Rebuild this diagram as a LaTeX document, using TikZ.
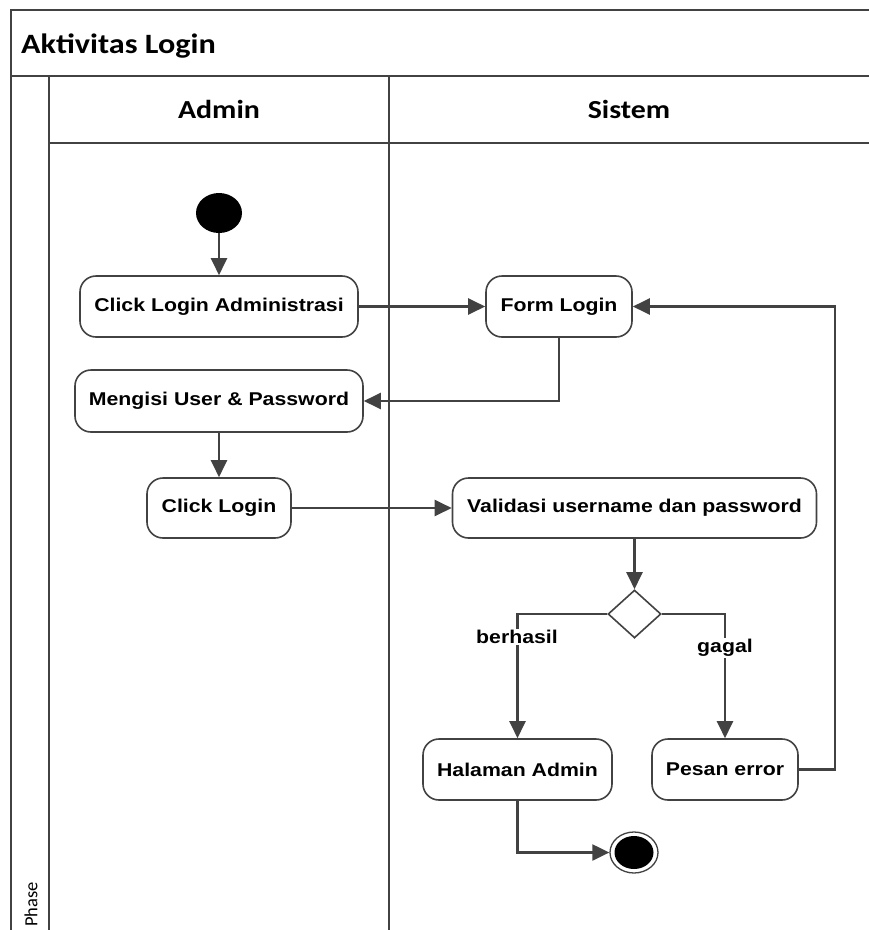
\documentclass[tikz,border=0pt]{standalone}
\usepackage{fontspec}
\usetikzlibrary{shapes.geometric,arrows.meta}
\newfontfamily\actfont[FakeStretch=1.15]{Liberation Sans}
\newfontfamily\headfont[FakeStretch=1.15]{Carlito}
\newfontfamily\phasefont{Carlito}
\definecolor{lc}{HTML}{424242}
\tikzset{
  frame/.style={draw=lc, line width=2.1pt},
  act/.style={draw=lc, line width=1.6pt, rounded corners=16pt, fill=white,
    font=\actfont\bfseries\fontsize{18.5}{22}\selectfont, inner sep=0pt},
  arr/.style={draw=lc, line width=2.2pt, -{Triangle[length=17pt,width=16pt]}},
  lbl/.style={fill=white, inner sep=1pt, font=\actfont\bfseries\fontsize{18.5}{22}\selectfont},
  headtext/.style={font=\headfont\bfseries\fontsize{26}{30}\selectfont, inner sep=0pt},
}
\begin{document}
\begin{tikzpicture}[x=1pt,y=-1pt]
\path[use as bounding box] (0,0) rectangle (869,930);

% swimlane frame
\draw[frame] (11,930) -- (11,10) -- (869,10);
\draw[frame] (11,76) -- (869,76);
\draw[frame] (49,76) -- (49,930);
\draw[frame] (49,143) -- (869,143);
\draw[frame] (389,76) -- (389,930);

% headings
\node[headtext, font=\headfont\bfseries\fontsize{28}{32}\selectfont, anchor=base west] (title) at (21,53) {Aktivitas Login};
\node[headtext, anchor=base] (laneA) at (219,118) {Admin};
\node[headtext, anchor=base] (laneS) at (629,118) {Sistem};
\node[font=\phasefont\fontsize{18.5}{20}\selectfont, inner sep=0pt, rotate=90, anchor=base west] (phase) at (37.5,927) {Phase};

% activities
\node[ellipse, fill=black, minimum width=46pt, minimum height=40pt, inner sep=0pt] (start) at (219,213) {};
\node[act, minimum width=278pt, minimum height=61pt] (cla) at (219,306.5) {Click Login Administrasi};
\node[act, minimum width=146pt, minimum height=61pt] (form) at (559,306.5) {Form Login};
\node[act, minimum width=288pt, minimum height=62pt] (isi) at (219,401) {Mengisi User \& Password};
\node[act, minimum width=144pt, minimum height=60pt] (clog) at (219,508) {Click Login};
\node[act, minimum width=364pt, minimum height=60pt] (val) at (634.5,508) {Validasi username dan password};
\node[diamond, draw=lc, line width=1.6pt, fill=white, minimum width=53pt, minimum height=48pt, inner sep=0pt] (dec) at (634.5,614) {};
\node[act, minimum width=189pt, minimum height=61pt] (hal) at (517.5,769.5) {Halaman Admin};
\node[act, minimum width=146pt, minimum height=61pt] (pesan) at (725,769.5) {Pesan error};
\node[ellipse, draw=lc, line width=1.3pt, fill=white, minimum width=48pt, minimum height=41pt, inner sep=0pt] (endo) at (634,852.5) {};
\node[ellipse, fill=black, minimum width=39pt, minimum height=33pt, inner sep=0pt] (endi) at (634,852.5) {};
\coordinate (back) at (835,769.5);

% flows
\draw[arr] (start) -- (cla);
\draw[arr] (cla) -- (form);
\draw[arr] (form.south) |- (isi.east);
\draw[arr] (isi) -- (clog);
\draw[arr] (clog) -- (val);
\draw[arr] (val) -- (dec);
\draw[arr] (dec.west) -| (hal.north);
\draw[arr] (dec.east) -| (pesan.north);
\draw[arr] (pesan.east) -- (back) |- (form.east);
\draw[arr] (hal.south) |- (endo.west);

% guards
\node[lbl] (ok) at (517,637) {berhasil};
\node[lbl] (fail) at (725,648) {gagal};
\end{tikzpicture}
\end{document}
